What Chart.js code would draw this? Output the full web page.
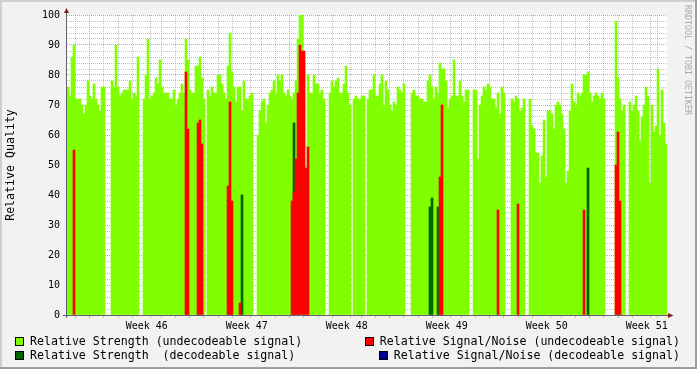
<!DOCTYPE html>
<html><head><meta charset="utf-8">
<script src="https://cdn.jsdelivr.net/npm/chart.js@4.4.0/dist/chart.umd.min.js"></script>
<style>
html,body{margin:0;padding:0;background:#f2f2f2;}
#wrap{position:relative;width:697px;height:369px;overflow:hidden;}
canvas{position:absolute;left:0;top:0;}
.lg{position:absolute;height:14px;line-height:14px;font-family:"DejaVu Sans Mono",monospace;font-size:11.6px;color:#000;white-space:pre;display:flex;align-items:center;}
.bx{display:inline-block;width:9px;height:9px;box-sizing:border-box;border:1px solid #000;margin-right:6px;flex:none;}
#wm{position:absolute;left:683px;top:5px;writing-mode:vertical-rl;font-family:"DejaVu Sans Mono",monospace;font-size:8.3px;color:#aaaaaa;white-space:pre;line-height:9px;}
</style></head>
<body><div id="wrap"><canvas id="c" width="697" height="369"></canvas><div id="legend"></div><div id="wm">RRDTOOL / TOBI OETIKER</div></div>
<script>
// ---- data: one value per time bin (42 days, 300 bins) ----
const STRENGTH_UNDEC = [
76,73,86,90,72,72,72,70,67,70,
78,73,72,77,72,70,68,76,76,null,
null,null,78,76,90,76,73,74,75,75,
75,78,72,74,73,86,null,null,72,80,
92,72,73,74,79,77,85,76,74,74,
74,72,72,75,70,72,74,77,74,92,
85,75,74,74,83,83,86,79,72,null,
75,73,76,74,74,80,80,77,74,72,
83,94,81,76,71,76,76,68,78,72,
72,73,74,null,null,60,68,71,72,64,
70,74,75,78,74,80,78,80,74,73,
75,73,72,74,78,92,100,100,84,null,
80,74,74,80,77,77,74,75,72,null,
null,74,78,76,78,79,74,74,77,83,
74,70,null,72,73,72,72,73,73,null,
72,75,75,80,73,73,77,80,70,78,
75,70,68,71,70,76,75,74,77,null,
null,null,74,75,73,73,72,72,71,71,
78,80,76,72,76,74,84,82,82,78,
69,72,73,85,73,73,78,73,71,75,
75,null,null,75,75,52,70,73,76,75,
77,76,72,72,69,74,67,76,74,null,
null,null,72,71,73,72,68,69,72,null,
null,72,63,62,54,54,44,53,65,46,
68,68,67,62,70,71,70,67,62,44,
48,68,77,71,70,74,73,74,80,80,
81,74,71,73,74,73,72,74,72,null,
null,null,null,null,98,79,72,68,70,null,
null,71,68,70,73,68,58,66,70,76,
73,44,70,61,63,82,60,75,64,57
];
// sparse series: [bin, value]
const STRENGTH_DEC = [[87,40],[113,64],[181,36],[182,39],[185,36],[260,49]];
const SNR_UNDEC = [[3,55],[59,81],[60,62],[65,64],[66,65],[67,57],[80,43],[81,71],[82,38],[86,4],
  [112,38],[113,41],[114,52],[115,74],[116,90],[117,88],[118,88],[119,49],[120,56],
  [186,46],[187,70],[215,35],[225,37],[258,35],[274,50],[275,61],[276,38]];
const SNR_DEC = [];
const WEEK_LABELS = ['Week 46','Week 47','Week 48','Week 49','Week 50','Week 51'];
const Y_LABELS = [0,10,20,30,40,50,60,70,80,90,100];
const SERIES_LABELS = ['Relative Strength (undecodeable signal)','Relative Strength  (decodeable signal)',
  'Relative Signal/Noise (undecodeable signal)','Relative Signal/Noise (decodeable signal)'];
const COLORS = ['#80ff00','#006400','#ff0000','#000090'];

// ---- time axis layout ----
const DAYS = 42;
const FIRST_WEEK_LINE = 2.08; // days from start to first week boundary

const N = STRENGTH_UNDEC.length;
const bins = STRENGTH_UNDEC.map((_, i) => i);
const fromSparse = pairs => { const a = new Array(N).fill(null); pairs.forEach(([i, v]) => a[i] = v); return a; };

const MINOR = 'rgba(143,143,143,0.55)';
const MAJOR = 'rgba(222,79,79,0.6)';

const xTicks = [];
for (let d = FIRST_WEEK_LINE - 7; d < DAYS; d += 1) {
  if (d < 0) continue;
  const k = Math.round(d - FIRST_WEEK_LINE);
  xTicks.push({value: d, kind: (k % 7 === 0) ? 'week' : 'day'});
}
WEEK_LABELS.forEach((t, i) => xTicks.push({value: FIRST_WEEK_LINE + 3.5 + 7 * i, kind: 'label', text: t}));
xTicks.sort((a, b) => a.value - b.value);

const yTicks = [];
for (let v = 0; v <= 100; v += 2) yTicks.push({value: v});

const decor = {
  id: 'decor',
  beforeDraw(chart) {
    const {ctx, chartArea: a, width, height} = chart;
    ctx.save();
    ctx.fillStyle = '#f2f2f2'; ctx.fillRect(0, 0, width, height);
    ctx.fillStyle = '#cfcfcf'; ctx.fillRect(0, 0, width, 2); ctx.fillRect(0, 0, 2, height);
    ctx.fillStyle = '#9e9e9e'; ctx.fillRect(0, height - 2, width, 2); ctx.fillRect(width - 2, 0, 2, height);
    ctx.fillStyle = '#ffffff'; ctx.fillRect(a.left, a.top, a.right - a.left, a.bottom - a.top);
    ctx.restore();
  },
  afterDraw(chart) {
    const {ctx, chartArea: a} = chart;
    ctx.save();
    ctx.strokeStyle = '#606070'; ctx.lineWidth = 1;
    ctx.beginPath();
    ctx.moveTo(a.left - 0.5, a.bottom + 3); ctx.lineTo(a.left - 0.5, a.top - 3);
    ctx.moveTo(a.left - 4, a.bottom + 0.5); ctx.lineTo(a.right + 2, a.bottom + 0.5);
    ctx.stroke();
    ctx.fillStyle = '#801f1f';
    ctx.beginPath(); ctx.moveTo(a.left - 3, a.top - 2); ctx.lineTo(a.left + 2, a.top - 2); ctx.lineTo(a.left - 0.5, a.top - 7); ctx.closePath(); ctx.fill();
    ctx.beginPath(); ctx.moveTo(a.right + 1, a.bottom - 2); ctx.lineTo(a.right + 1, a.bottom + 3); ctx.lineTo(a.right + 6.5, a.bottom + 0.5); ctx.closePath(); ctx.fill();
    ctx.restore();
  }
};

Chart.defaults.font.family = '"DejaVu Sans Mono", monospace';
Chart.defaults.color = '#000';

const seriesData = [STRENGTH_UNDEC, fromSparse(STRENGTH_DEC), fromSparse(SNR_UNDEC), fromSparse(SNR_DEC)];
const orders = [4, 3, 2, 1];

new Chart(document.getElementById('c'), {
  type: 'bar',
  data: {
    labels: bins,
    datasets: seriesData.map((d, i) => ({
      label: SERIES_LABELS[i], data: d, backgroundColor: COLORS[i], borderWidth: 0,
      order: orders[i], xAxisID: 'x', yAxisID: 'y',
      barPercentage: 1, categoryPercentage: 1, grouped: false
    }))
  },
  options: {
    responsive: false, animation: false, devicePixelRatio: 1,
    layout: {padding: {top: 15, right: 30, bottom: 0, left: 0}},
    plugins: {legend: {display: false}, tooltip: {enabled: false}},
    scales: {
      x: {type: 'category', display: false, offset: true},
      xg: {
        type: 'linear', position: 'bottom', min: 0, max: DAYS, z: 1, offset: false,
        afterBuildTicks: s => { s.ticks = xTicks.map(t => Object.assign({}, t)); },
        afterFit: s => { s.height = 54; },
        grid: {
          color: c => c.tick ? (c.tick.kind === 'label' ? 'rgba(0,0,0,0)' : (c.tick.kind === 'week' ? MAJOR : MINOR)) : MINOR,
          tickColor: c => c.tick ? (c.tick.kind === 'label' ? 'rgba(0,0,0,0)' : (c.tick.kind === 'week' ? MAJOR : MINOR)) : MINOR,
          lineWidth: 1, drawTicks: true, tickLength: 3
        },
        border: {display: false, dash: [1, 1]},
        ticks: {
          autoSkip: false, maxRotation: 0, minRotation: 0, padding: 2,
          font: {size: 10},
          callback: (v, i, ticks) => ticks[i].kind === 'label' ? ticks[i].text : ''
        }
      },
      y: {
        type: 'linear', min: 0, max: 100, z: 1,
        afterBuildTicks: s => { s.ticks = yTicks.map(t => Object.assign({}, t)); },
        afterFit: s => { s.width = 67; },
        grid: {
          color: c => (c.tick && c.tick.value % 10 === 0) ? MAJOR : MINOR,
          lineWidth: 1, drawTicks: false
        },
        border: {display: false, dash: [1, 1]},
        ticks: {
          autoSkip: false, padding: 7, font: {size: 10},
          callback: v => Y_LABELS.includes(v) ? String(v) : ''
        },
        title: {display: true, text: 'Relative Quality', font: {size: 11.6}, padding: {top: 4, bottom: 0}}
      }
    }
  },
  plugins: [decor]
});

// ---- legend (HTML) ----
const legendPos = [
  {side: 'left', top: 334}, {side: 'left', top: 348},
  {side: 'right', top: 334}, {side: 'right', top: 348}
];
const lg = document.getElementById('legend');
SERIES_LABELS.forEach((t, i) => {
  const d = document.createElement('div');
  d.className = 'lg';
  d.style.top = legendPos[i].top + 'px';
  if (legendPos[i].side === 'left') d.style.left = '15px'; else d.style.right = '17px';
  const b = document.createElement('span'); b.className = 'bx'; b.style.background = COLORS[i];
  const s = document.createElement('span'); s.textContent = t;
  d.appendChild(b); d.appendChild(s); lg.appendChild(d);
});
</script>
</body></html>
